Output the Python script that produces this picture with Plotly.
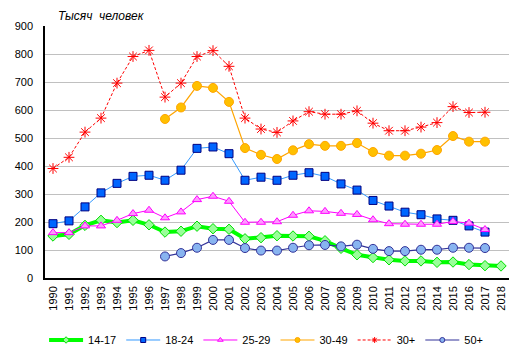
import plotly.graph_objects as go

years = list(range(1990, 2019))
years_97 = list(range(1997, 2018))

s14_17 = [150, 156, 188, 206, 198, 206, 190, 164, 167, 185, 176, 174, 140, 144, 151,
          150, 149, 133, 106, 83, 73, 65, 61, 61, 56, 57, 48, 44, 43]
s18_24 = [194, 204, 254, 304, 338, 363, 367, 349, 385, 463, 468, 444, 349, 360, 349,
          367, 376, 363, 336, 314, 277, 257, 235, 226, 211, 206, 186, 164]
s25_29 = [162, 162, 186, 186, 206, 230, 242, 215, 236, 280, 292, 274, 199, 199, 201,
          224, 240, 238, 231, 227, 208, 194, 192, 192, 192, 202, 196, 173]
s30_49 = [568, 609, 686, 679, 629, 464, 440, 425, 456, 478, 472, 472, 482, 450, 437,
          437, 444, 457, 507, 487, 487]
s30p = [391, 431, 521, 571, 696, 791, 813, 646, 696, 791, 812, 756, 571, 532, 520,
        561, 594, 585, 585, 597, 553, 526, 526, 539, 555, 612, 591, 592]
s50p = [77, 89, 108, 136, 136, 107, 98, 98, 108, 117, 118, 113, 119, 104, 96, 96,
        101, 101, 108, 108, 107]

FONT = "Liberation Sans, Arial, sans-serif"

series = [
    dict(name="14-17", x=years, y=s14_17,
         line=dict(color="#00FF00", width=4),
         marker=dict(symbol="diamond", size=8, color="#99FF99",
                     line=dict(color="#00DD00", width=1))),
    dict(name="18-24", x=years[:len(s18_24)], y=s18_24,
         line=dict(color="#3399FF", width=1),
         marker=dict(symbol="square", size=8, color="#0066FF",
                     line=dict(color="#000080", width=1))),
    dict(name="25-29", x=years[:len(s25_29)], y=s25_29,
         line=dict(color="#FF00FF", width=1),
         marker=dict(symbol="triangle-up", size=8, color="#FF99FF",
                     line=dict(color="#FF00FF", width=1))),
    dict(name="30-49", x=years_97, y=s30_49,
         line=dict(color="#FFA500", width=1.2),
         marker=dict(symbol="circle", size=9, color="#FFC000",
                     line=dict(color="#FFA500", width=1))),
    dict(name="30+", x=years[:len(s30p)], y=s30p,
         line=dict(color="#FF0000", width=1, dash="3px,2px"),
         marker=dict(symbol="asterisk-open", size=9, color="#FF0000",
                     line=dict(color="#FF0000", width=1))),
    dict(name="50+", x=years_97, y=s50p,
         line=dict(color="#333399", width=1.2),
         marker=dict(symbol="circle", size=9, color="#88B4F0",
                     line=dict(color="#333399", width=1))),
]

fig = go.Figure()
for s in series:
    fig.add_trace(go.Scatter(x=s["x"], y=s["y"], name=s["name"], mode="lines+markers",
                             line=s["line"], marker=s["marker"], showlegend=False))
# legend entries with small markers, as in the reference
for s in series:
    m = dict(s["marker"])
    m["size"] = 5
    fig.add_trace(go.Scatter(x=[None], y=[None], name=s["name"], mode="lines+markers",
                             line=s["line"], marker=m, showlegend=True))

# the page body has an 8px margin, so the figure is 16px smaller than the window
fig.update_layout(
    width=506, height=343,
    margin=dict(l=37, r=5, t=18, b=73, autoexpand=False),
    paper_bgcolor="white", plot_bgcolor="white",
    font=dict(family=FONT, size=11, color="#000000"),
    showlegend=True,
    legend=dict(orientation="h", x=-0.002, xanchor="left", y=-0.246, yanchor="middle",
                font=dict(family=FONT, size=11, color="#000000"),
                itemwidth=34,
                bgcolor="rgba(0,0,0,0)", tracegroupgap=0),
    annotations=[dict(text="<i>Тысяч\u00a0 человек</i>", x=0.026, xref="paper",
                      xanchor="left", y=1.0397, yref="paper", yanchor="middle",
                      borderpad=0,
                      showarrow=False, font=dict(family=FONT, size=12, color="#000000"))],
)
fig.update_xaxes(
    range=[1989.5, 2018.5], tickmode="array", tickvals=years,
    ticktext=[str(y) for y in years], tickangle=-90,
    showgrid=False, zeroline=False, showline=True, linecolor="#000000", linewidth=1.5,
    ticks="", ticklabelstandoff=2, tickfont=dict(family=FONT, size=11, color="#000000"))
fig.update_yaxes(
    range=[0, 900], dtick=100, showgrid=True, gridcolor="#C0C0C0", gridwidth=1,
    zeroline=False, showline=True, linecolor="#000000", linewidth=1.5,
    ticks="", ticklabelstandoff=8, tickfont=dict(family=FONT, size=11, color="#000000"))

fig.write_html("out.html")
